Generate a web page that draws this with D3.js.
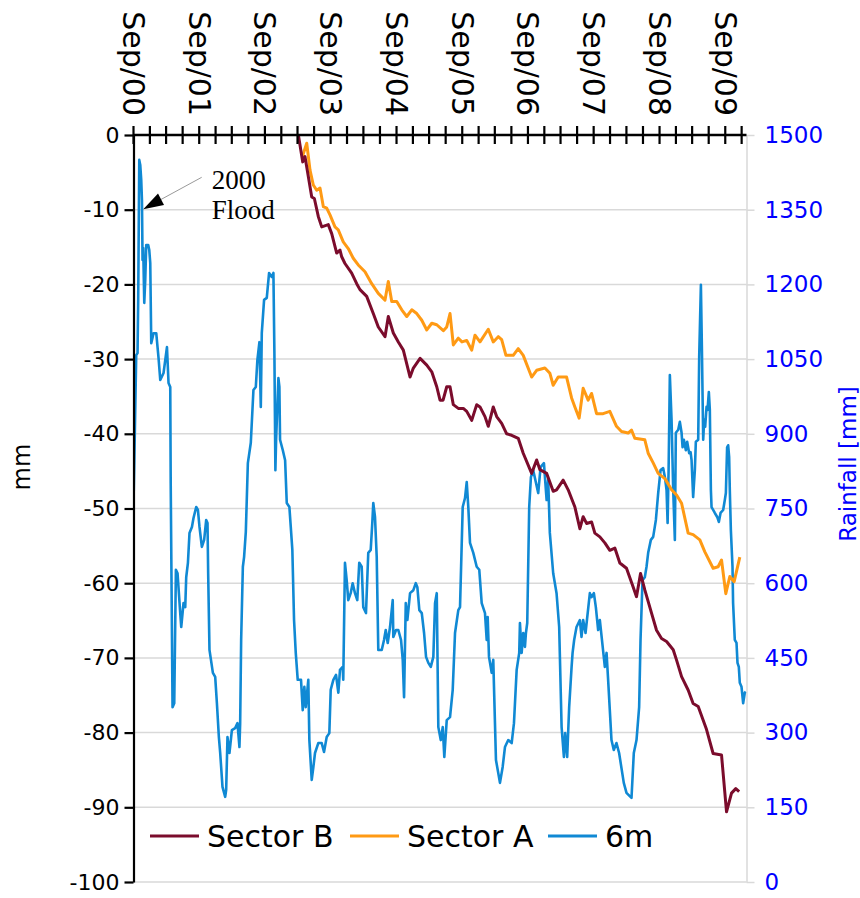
<!DOCTYPE html>
<html><head><meta charset="utf-8">
<script src="https://cdn.jsdelivr.net/npm/d3@7"></script>
<style>html,body{margin:0;padding:0;background:#fff;} svg{display:block;}</style>
</head><body>
<svg id="c" width="860" height="898"></svg>
<script>
// ---------- data ----------
const seriesNames = ["Sector B", "Sector A", "6m"];
const yearLabels = ["Sep/00","Sep/01","Sep/02","Sep/03","Sep/04","Sep/05","Sep/06","Sep/07","Sep/08","Sep/09"];
const leftTicks = [0,-10,-20,-30,-40,-50,-60,-70,-80,-90,-100];
const rightTicks = [0,150,300,450,600,750,900,1050,1200,1350,1500];
const axisEndYear = 2009.989;   // decimal year of the right edge (late Dec 2009)

// 6-month rainfall [mm] (decimal year, value)
const rain6m = [[2000.670,783],[2000.685,888],[2000.708,1058],[2000.728,1062],[2000.738,1169],[2000.754,1450],[2000.769,1440],[2000.784,1410],[2000.795,1369],[2000.804,1249],[2000.814,1273],[2000.830,1163],[2000.845,1209],[2000.860,1279],[2000.890,1279],[2000.906,1269],[2000.921,1243],[2000.936,1082],[2000.971,1102],[2001.012,1102],[2001.047,1052],[2001.073,1008],[2001.123,1022],[2001.175,1074],[2001.199,1002],[2001.225,994],[2001.232,801],[2001.260,351],[2001.286,359],[2001.311,627],[2001.336,620],[2001.377,540],[2001.392,512],[2001.427,560],[2001.453,552],[2001.468,612],[2001.494,641],[2001.518,701],[2001.555,713],[2001.579,731],[2001.620,753],[2001.646,747],[2001.670,713],[2001.706,673],[2001.741,687],[2001.772,727],[2001.792,721],[2001.802,620],[2001.822,466],[2001.874,420],[2001.909,412],[2001.935,359],[2001.965,291],[2001.985,259],[2002.020,191],[2002.061,171],[2002.076,185],[2002.096,291],[2002.126,259],[2002.163,305],[2002.213,309],[2002.248,319],[2002.278,271],[2002.289,319],[2002.304,486],[2002.330,633],[2002.349,653],[2002.375,703],[2002.406,841],[2002.451,882],[2002.491,988],[2002.527,994],[2002.551,1048],[2002.582,1084],[2002.603,954],[2002.618,1102],[2002.653,1169],[2002.694,1173],[2002.729,1223],[2002.770,1215],[2002.795,1223],[2002.810,1062],[2002.825,827],[2002.836,888],[2002.871,1012],[2002.886,994],[2002.896,888],[2002.938,867],[2002.973,847],[2002.998,761],[2003.038,753],[2003.059,713],[2003.083,667],[2003.109,526],[2003.135,460],[2003.165,406],[2003.215,406],[2003.241,345],[2003.266,392],[2003.287,351],[2003.326,406],[2003.342,285],[2003.378,205],[2003.403,231],[2003.428,259],[2003.478,279],[2003.530,279],[2003.565,261],[2003.606,291],[2003.646,299],[2003.667,386],[2003.707,406],[2003.748,416],[2003.783,380],[2003.808,426],[2003.849,432],[2003.858,406],[2003.884,641],[2003.910,606],[2003.934,566],[2003.971,580],[2004.001,600],[2004.036,580],[2004.071,566],[2004.101,641],[2004.138,633],[2004.162,552],[2004.203,540],[2004.238,661],[2004.275,667],[2004.299,721],[2004.314,761],[2004.340,733],[2004.366,653],[2004.390,466],[2004.442,466],[2004.477,486],[2004.503,506],[2004.533,480],[2004.568,512],[2004.609,566],[2004.618,492],[2004.659,506],[2004.694,506],[2004.735,486],[2004.761,446],[2004.781,371],[2004.807,560],[2004.831,526],[2004.872,580],[2004.922,586],[2004.959,600],[2004.983,592],[2005.013,546],[2005.050,540],[2005.085,500],[2005.115,452],[2005.150,440],[2005.187,432],[2005.226,452],[2005.252,560],[2005.278,580],[2005.302,311],[2005.339,285],[2005.369,311],[2005.393,251],[2005.430,325],[2005.480,331],[2005.521,386],[2005.556,500],[2005.606,546],[2005.632,552],[2005.673,753],[2005.708,771],[2005.734,803],[2005.758,753],[2005.784,681],[2005.834,661],[2005.886,633],[2005.925,627],[2005.962,560],[2006.012,540],[2006.038,486],[2006.053,532],[2006.073,452],[2006.114,420],[2006.138,446],[2006.179,245],[2006.214,219],[2006.240,199],[2006.281,231],[2006.316,271],[2006.366,285],[2006.418,279],[2006.453,319],[2006.494,426],[2006.533,460],[2006.544,520],[2006.570,460],[2006.594,500],[2006.620,472],[2006.635,500],[2006.655,520],[2006.685,753],[2006.711,813],[2006.746,827],[2006.822,781],[2006.858,833],[2006.909,841],[2006.950,767],[2006.974,807],[2006.999,701],[2007.050,620],[2007.101,580],[2007.141,512],[2007.178,311],[2007.213,251],[2007.232,299],[2007.263,251],[2007.293,351],[2007.330,432],[2007.345,460],[2007.369,486],[2007.405,512],[2007.456,526],[2007.481,492],[2007.506,526],[2007.542,500],[2007.608,580],[2007.634,572],[2007.669,580],[2007.699,552],[2007.734,506],[2007.760,526],[2007.836,432],[2007.862,460],[2007.886,406],[2007.937,285],[2007.972,265],[2008.013,279],[2008.053,259],[2008.124,199],[2008.165,179],[2008.241,169],[2008.276,259],[2008.317,285],[2008.357,351],[2008.378,486],[2008.408,606],[2008.443,612],[2008.469,633],[2008.494,661],[2008.535,687],[2008.570,693],[2008.611,727],[2008.646,781],[2008.682,827],[2008.722,831],[2008.748,813],[2008.773,787],[2008.789,721],[2008.804,827],[2008.823,1018],[2008.849,928],[2008.874,787],[2008.899,687],[2008.914,902],[2008.950,908],[2008.975,924],[2009.001,902],[2009.016,873],[2009.036,888],[2009.066,867],[2009.086,884],[2009.117,861],[2009.138,863],[2009.153,847],[2009.177,773],[2009.203,827],[2009.218,884],[2009.254,888],[2009.269,1054],[2009.295,1199],[2009.310,1074],[2009.330,888],[2009.345,928],[2009.360,914],[2009.381,954],[2009.396,948],[2009.416,984],[2009.431,948],[2009.447,787],[2009.457,753],[2009.507,741],[2009.543,733],[2009.568,723],[2009.594,741],[2009.634,747],[2009.659,767],[2009.675,781],[2009.694,873],[2009.710,877],[2009.725,853],[2009.735,787],[2009.751,707],[2009.776,633],[2009.785,560],[2009.811,486],[2009.837,480],[2009.852,440],[2009.872,432],[2009.887,400],[2009.913,392],[2009.938,359],[2009.963,380],[2009.978,382]];

// Sector B displacement [mm]
const sectorB = [[2003.175,0],[2003.241,-3.6],[2003.276,-2.9],[2003.378,-8.3],[2003.418,-8.5],[2003.478,-10.9],[2003.530,-12.3],[2003.630,-12.0],[2003.682,-13.2],[2003.758,-15.8],[2003.808,-15.4],[2003.834,-16.3],[2003.884,-17.2],[2003.986,-18.5],[2004.062,-19.9],[2004.112,-20.7],[2004.214,-21.6],[2004.314,-23.9],[2004.390,-25.7],[2004.492,-27.0],[2004.542,-24.3],[2004.618,-26.5],[2004.694,-27.7],[2004.770,-28.8],[2004.872,-32.4],[2004.922,-31.2],[2005.024,-29.9],[2005.126,-30.8],[2005.202,-31.7],[2005.278,-33.7],[2005.328,-35.5],[2005.374,-35.5],[2005.430,-33.7],[2005.480,-33.7],[2005.530,-36.1],[2005.606,-36.6],[2005.682,-36.6],[2005.734,-37.0],[2005.810,-38.2],[2005.886,-36.1],[2005.936,-36.4],[2006.012,-37.7],[2006.062,-39.0],[2006.138,-36.4],[2006.190,-37.7],[2006.266,-38.6],[2006.342,-40.0],[2006.418,-40.2],[2006.518,-40.6],[2006.594,-42.6],[2006.722,-45.3],[2006.798,-43.5],[2006.848,-44.8],[2006.950,-45.3],[2007.050,-47.7],[2007.101,-47.5],[2007.202,-46.2],[2007.278,-47.5],[2007.380,-49.8],[2007.456,-52.7],[2007.506,-51.1],[2007.558,-52.0],[2007.634,-51.8],[2007.684,-53.3],[2007.760,-53.8],[2007.836,-54.6],[2007.912,-55.6],[2007.988,-55.3],[2008.064,-57.3],[2008.165,-58.0],[2008.266,-60.5],[2008.317,-61.8],[2008.378,-58.7],[2008.443,-60.9],[2008.545,-64.0],[2008.621,-66.3],[2008.697,-67.4],[2008.773,-67.8],[2008.874,-68.9],[2008.925,-70.3],[2009.001,-72.5],[2009.101,-74.3],[2009.177,-76.1],[2009.254,-76.5],[2009.381,-79.6],[2009.481,-82.8],[2009.609,-83.0],[2009.685,-90.6],[2009.761,-88.1],[2009.826,-87.5],[2009.877,-87.9]];

// Sector A displacement [mm]
const sectorA = [[2003.235,-2.9],[2003.302,-1.1],[2003.352,-4.7],[2003.402,-6.7],[2003.454,-7.4],[2003.504,-7.1],[2003.555,-9.6],[2003.606,-9.8],[2003.656,-10.7],[2003.732,-12.3],[2003.782,-12.7],[2003.858,-14.3],[2003.934,-15.2],[2004.010,-16.5],[2004.086,-17.4],[2004.188,-18.3],[2004.290,-19.9],[2004.390,-21.2],[2004.492,-22.1],[2004.542,-19.6],[2004.594,-22.3],[2004.670,-22.3],[2004.746,-23.4],[2004.822,-24.3],[2004.898,-23.4],[2004.974,-23.9],[2005.050,-24.8],[2005.126,-26.1],[2005.202,-25.2],[2005.278,-25.4],[2005.378,-26.2],[2005.430,-25.7],[2005.480,-23.9],[2005.530,-28.1],[2005.606,-27.2],[2005.662,-27.7],[2005.734,-27.5],[2005.810,-28.8],[2005.860,-26.8],[2005.936,-27.7],[2006.062,-26.0],[2006.138,-27.7],[2006.214,-27.0],[2006.266,-27.4],[2006.331,-29.5],[2006.442,-29.5],[2006.518,-28.6],[2006.594,-29.5],[2006.722,-32.4],[2006.798,-31.5],[2006.924,-31.2],[2007.000,-31.9],[2007.050,-33.5],[2007.126,-32.4],[2007.254,-32.4],[2007.330,-35.2],[2007.380,-36.4],[2007.445,-37.9],[2007.506,-33.9],[2007.582,-35.5],[2007.634,-34.6],[2007.710,-37.3],[2007.810,-37.3],[2007.912,-37.0],[2008.013,-39.0],[2008.089,-39.7],[2008.190,-39.9],[2008.241,-39.5],[2008.291,-40.6],[2008.367,-40.7],[2008.443,-40.8],[2008.494,-42.6],[2008.570,-43.9],[2008.646,-45.3],[2008.748,-46.0],[2008.849,-47.5],[2008.925,-48.2],[2009.001,-49.3],[2009.101,-53.3],[2009.177,-53.5],[2009.279,-54.2],[2009.355,-55.8],[2009.481,-58.0],[2009.557,-57.8],[2009.609,-56.9],[2009.674,-61.4],[2009.735,-59.1],[2009.801,-59.8],[2009.887,-56.5]];

const colors = {"Sector B":"#7b0c2c","Sector A":"#ff9a14","6m":"#1089d4"};

// ---------- helpers ----------
function toDate(t){
  const y = Math.floor(t);
  const a = new Date(y,0,1), b = new Date(y+1,0,1);
  return new Date(+a + (t - y) * (b - a));
}

// ---------- layout ----------
const L = 133.5, R = 746.5, T = 135, B = 882;
const svg = d3.select("#c");
const font = "'DejaVu Sans', Verdana, sans-serif";
const serif = "'Liberation Serif', 'Times New Roman', serif";

const startDate = new Date(2000, 8, 1);
const endDate = toDate(axisEndYear);
const x = d3.scaleTime().domain([startDate, endDate]).range([L, R]);
const yL = d3.scaleLinear().domain([-100, 0]).range([B, T]);
const yR = d3.scaleLinear().domain([0, 1500]).range([B, T]);

// gridlines
svg.append("g").selectAll("line").data(leftTicks.filter(d => d !== 0)).join("line")
  .attr("x1", L).attr("x2", R).attr("y1", d => yL(d)).attr("y2", d => yL(d))
  .attr("stroke", "#d9d9d9").attr("stroke-width", 1.5);

// right axis (secondary, rainfall)
const gR = svg.append("g").attr("transform", `translate(${R},0)`)
  .call(d3.axisRight(yR).tickValues(rightTicks).tickSize(8).tickSizeOuter(0).tickPadding(10).tickFormat(d => String(d)));
gR.select(".domain").attr("stroke", "#d9d9d9").attr("stroke-width", 1.5);
gR.selectAll(".tick line").attr("stroke", "#d9d9d9").attr("stroke-width", 1.5);
gR.selectAll(".tick text").attr("fill", "#0000ff").attr("font-size", 23).attr("font-family", font);

// clip
svg.append("clipPath").attr("id", "clip").append("rect")
  .attr("x", L).attr("y", T - 2).attr("width", R - L).attr("height", B - T + 4);

const lineR = d3.line().x(d => x(toDate(d[0]))).y(d => yR(d[1]));
const lineL = d3.line().x(d => x(toDate(d[0]))).y(d => yL(d[1]));

const plot = svg.append("g").attr("clip-path", "url(#clip)");
plot.append("path").datum(rain6m).attr("d", lineR).attr("fill", "none")
  .attr("stroke", colors["6m"]).attr("stroke-width", 2.6).attr("stroke-linejoin", "round");
plot.append("path").datum(sectorA).attr("d", lineL).attr("fill", "none")
  .attr("stroke", colors["Sector A"]).attr("stroke-width", 3).attr("stroke-linejoin", "round");
plot.append("path").datum(sectorB).attr("d", lineL).attr("fill", "none")
  .attr("stroke", colors["Sector B"]).attr("stroke-width", 3).attr("stroke-linejoin", "round");

// left axis
const gL = svg.append("g").attr("transform", `translate(${L},0)`)
  .call(d3.axisLeft(yL).tickValues(leftTicks).tickSize(9).tickSizeOuter(0).tickPadding(5).tickFormat(d => String(d)));
gL.select(".domain").attr("stroke", "#000").attr("stroke-width", 2.2);
gL.selectAll(".tick line").attr("stroke", "#000").attr("stroke-width", 2.2);
gL.selectAll(".tick text").attr("fill", "#000").attr("font-size", 22).attr("font-family", font);

// top axis (dates): quarterly ticks, a label every September
const quarterTicks = d3.timeMonth.range(startDate, endDate, 3);
const gT = svg.append("g").attr("transform", `translate(0,${T})`);
gT.append("line").attr("x1", L).attr("x2", R).attr("y1", 0).attr("y2", 0)
  .attr("stroke", "#000").attr("stroke-width", 2.4);
gT.selectAll("line.tk").data(quarterTicks).join("line").attr("class", "tk")
  .attr("x1", d => x(d)).attr("x2", d => x(d)).attr("y1", -9).attr("y2", 9)
  .attr("stroke", "#000").attr("stroke-width", 2.2);
const septTicks = quarterTicks.filter(d => d.getMonth() === 8);
gT.selectAll("text.yl").data(septTicks).join("text").attr("class", "yl")
  .attr("transform", d => `translate(${x(d)},-19) rotate(90)`)
  .attr("text-anchor", "end").attr("dy", "0.35em")
  .attr("font-size", 30).attr("font-family", font).attr("fill", "#000")
  .text((d, i) => yearLabels[i]);

// axis titles
svg.append("text").attr("transform", "translate(22,467) rotate(-90)")
  .attr("text-anchor", "middle").attr("dy", "0.35em")
  .attr("font-size", 24).attr("font-family", font).attr("fill", "#000").text("mm");
svg.append("text").attr("transform", "translate(848,464) rotate(-90)")
  .attr("text-anchor", "middle").attr("dy", "0.35em")
  .attr("font-size", 23).attr("font-family", font).attr("fill", "#0000ff").text("Rainfall [mm]");

// legend
const legX = [150, 350, 548];
const leg = svg.append("g").selectAll("g").data(seriesNames).join("g")
  .attr("transform", (d, i) => `translate(${legX[i]},836)`);
leg.append("line").attr("x1", 0).attr("x2", 49).attr("y1", 0).attr("y2", 0)
  .attr("stroke", d => colors[d]).attr("stroke-width", 3);
leg.append("text").attr("x", 57).attr("dy", "0.36em")
  .attr("font-size", 30).attr("font-family", font).attr("fill", "#000").text(d => d);

// annotation
const ann = svg.append("g");
ann.append("line").attr("x1", 201.7).attr("y1", 177.3).attr("x2", 160).attr("y2", 200)
  .attr("stroke", "#9a9a9a").attr("stroke-width", 1);
ann.append("path").attr("d", "M143.3,209.3 L158,193.5 L164,205 Z").attr("fill", "#000");
ann.append("text").attr("x", 211.7).attr("y", 188.5).attr("font-family", serif)
  .attr("font-size", 27).attr("fill", "#000").text("2000");
ann.append("text").attr("x", 211.7).attr("y", 218.5).attr("font-family", serif)
  .attr("font-size", 27).attr("fill", "#000").text("Flood");
</script>
</body></html>
